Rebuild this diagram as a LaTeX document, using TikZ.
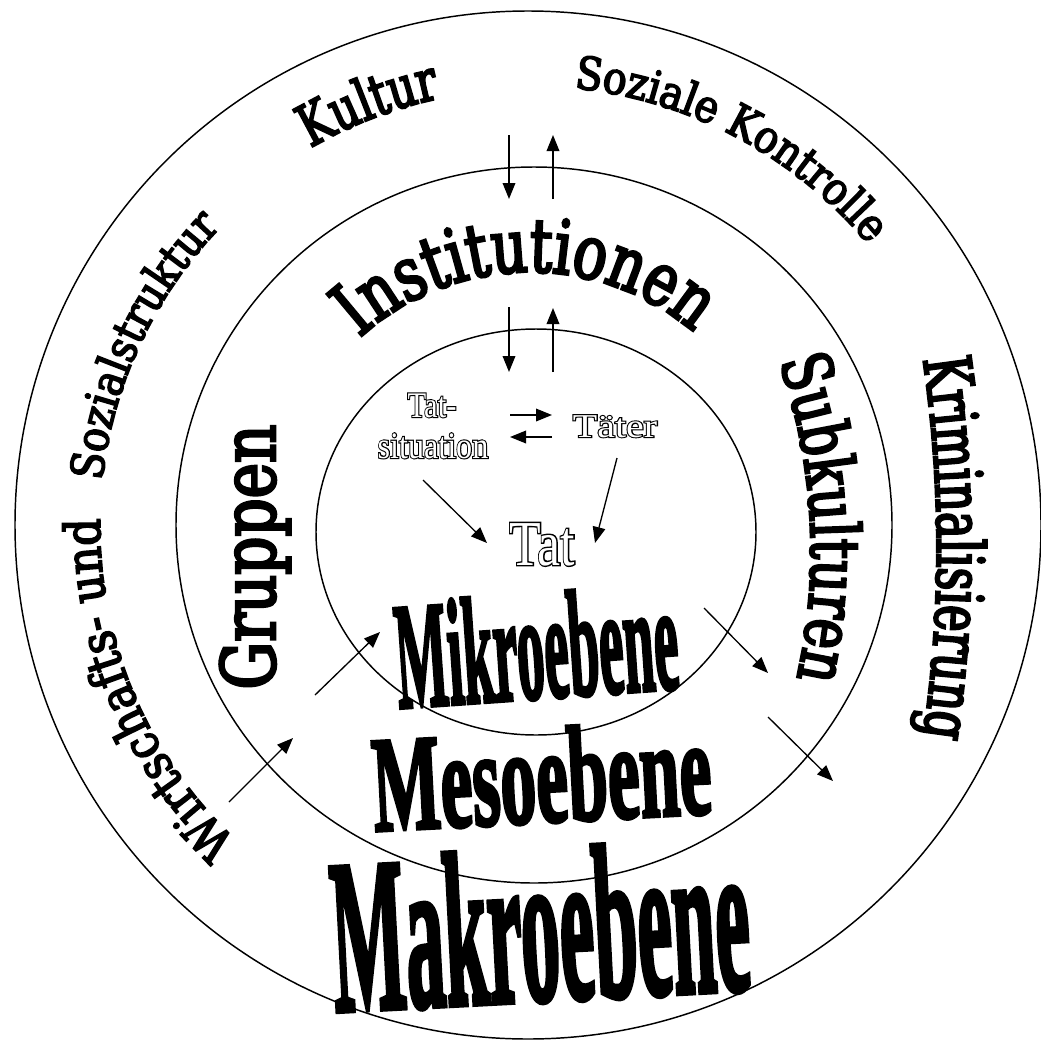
\documentclass[tikz,border=0pt]{standalone}
\usepackage{fontspec}
\usepackage{graphicx}
\usetikzlibrary{decorations.text,arrows.meta}
\setmainfont{DejaVu Serif}
\newfontfamily\fK[FakeStretch=0.75,FakeBold=3.5]{DejaVu Serif}
\newfontfamily\fS[FakeStretch=0.87,FakeBold=3.5]{DejaVu Serif}
\newfontfamily\fG[FakeStretch=0.8,FakeBold=3.5]{DejaVu Serif}
\newfontfamily\fKr[FakeStretch=0.68,FakeBold=3.5]{DejaVu Serif}
\newfontfamily\tms{Liberation Serif}
\newfontfamily\tmsfb[FakeBold=6]{Liberation Serif}
\newfontfamily\tmsfbb[FakeBold=4.5]{Liberation Serif}
\newfontfamily\tmB[UprightFont={* Bold},FakeBold=3]{Liberation Serif}
\newcommand\hollow[2][1]{\leavevmode\rlap{\scalebox{#1}[1]{\tmsfb #2}}\scalebox{#1}[1]{\color{white}\tms #2}}
\newcommand\hollowb[2][1]{\leavevmode\rlap{\scalebox{#1}[1]{\tmsfbb #2}}\scalebox{#1}[1]{\color{white}\tms #2}}
\newcommand\bigw[4]{\scalebox{#1}[#2]{\fontsize{#3}{#3}\selectfont\tmB #4}}
\tikzset{
  ring/.style={line width=1.1pt},
  arr/.style={line width=1pt,-{Triangle[length=12pt,width=9.5pt]}},
  lbl/.style={inner sep=0pt},
}
\begin{document}
\begin{tikzpicture}[x=0.75pt,y=0.75pt]
\useasboundingbox (0,0) rectangle (1040,-1043);
\fill[white] (0,0) rectangle (1040,-1043);
% rings
\draw[ring] (528,-525) ellipse [x radius=513, y radius=514];
\draw[ring] (534,-525) circle [radius=358];
\draw[ring] (536,-532) ellipse [x radius=220, y radius=203];
\coordinate (c0) at (530,-526);
\coordinate (c1) at (530,-525);
% outer ring texts
\path[decorate,decoration={text along path,text align=center,text={|\fontsize{43}{43}\fK|Kultur}}]
  (c0) ++(141:437) arc[start angle=141,end angle=81,radius=437];
\path[decorate,decoration={text along path,text align=center,text={|\fontsize{34}{34}\fS|Soziale Kontrolle}}]
  (c0) ++(102:440) arc[start angle=102,end angle=22,radius=440];
\path[decorate,decoration={text along path,text align=center,text={|\fontsize{37}{37}\fS|Wirtschafts- und}}]
  (c0) ++(250:430) arc[start angle=250,end angle=156,radius=430];
\path[decorate,decoration={text along path,text align=center,text={|\fontsize{34}{34}\fS|Sozialstruktur}}]
  (c0) ++(195:430) arc[start angle=195,end angle=115,radius=430];
\coordinate (ck) at (-348,-548);
\path[decorate,decoration={text along path,text align=center,text={|\fontsize{49}{49}\fKr|Kriminalisierung}}]
  (ck) ++(12:1285) arc[start angle=12,end angle=-12,radius=1285];
% middle ring texts
\path[decorate,decoration={text along path,text align=center,text={|\fontsize{56}{56}\fK|Institutionen}}]
  (c1) ++(150:253) arc[start angle=150,end angle=32,radius=253];
\coordinate (cs) at (233,-551);
\path[decorate,decoration={text along path,text align=center,text={|\fontsize{51}{51}\fK|Subkulturen}}]
  (cs) ++(23.2:578) arc[start angle=23.2,end angle=-16.8,radius=578];
\node[lbl,rotate=90] (gruppen) at (255,-557) {\fontsize{56}{56}\selectfont\fG Gruppen};
% level names
\node[lbl,anchor=base,rotate=3] (makro) at (544,-1000) {\bigw{0.40}{1.12}{146}{Makroebene}};
\node[lbl,anchor=base,rotate=3] (meso) at (544,-822) {\bigw{0.555}{1.05}{97}{Mesoebene}};
\node[lbl,anchor=base,rotate=4] (mikro) at (540,-698) {\bigw{0.40}{1.1}{103}{Mikroebene}};
% micro level
\node[lbl,anchor=base] (tat1) at (432,-417) {\fontsize{27}{27}\selectfont\hollow[0.85]{Tat-}};
\node[lbl,anchor=base] (tat2) at (433,-458) {\fontsize{28}{28}\selectfont\hollow[0.86]{situation}};
\node[lbl,anchor=base] (taeter) at (615,-437) {\fontsize{25}{25}\selectfont\hollow[1.2]{Täter}};
\node[lbl,anchor=base] (tat) at (542,-565) {\fontsize{48}{48}\selectfont\hollowb[0.81]{Tat}};
% arrows
\coordinate (a1s) at (509,-135); \coordinate (a1e) at (509,-199);
\coordinate (a2s) at (553,-199); \coordinate (a2e) at (553,-135);
\coordinate (a3s) at (509,-307); \coordinate (a3e) at (509,-372);
\coordinate (a4s) at (553,-372); \coordinate (a4e) at (553,-308);
\coordinate (a5s) at (510,-415); \coordinate (a5e) at (552,-415);
\coordinate (a6s) at (552,-437); \coordinate (a6e) at (510,-437);
\coordinate (a7s) at (423,-480); \coordinate (a7e) at (487,-543);
\coordinate (a8s) at (617,-458); \coordinate (a8e) at (595,-543);
\coordinate (a9s) at (229,-802); \coordinate (a9e) at (293,-738);
\coordinate (a10s) at (315,-695); \coordinate (a10e) at (380,-632);
\coordinate (a11s) at (704,-608); \coordinate (a11e) at (768,-673);
\coordinate (a12s) at (768,-717); \coordinate (a12e) at (833,-781);
\foreach \i in {1,...,12} {\draw[arr] (a\i s) -- (a\i e);}
\end{tikzpicture}
\end{document}
